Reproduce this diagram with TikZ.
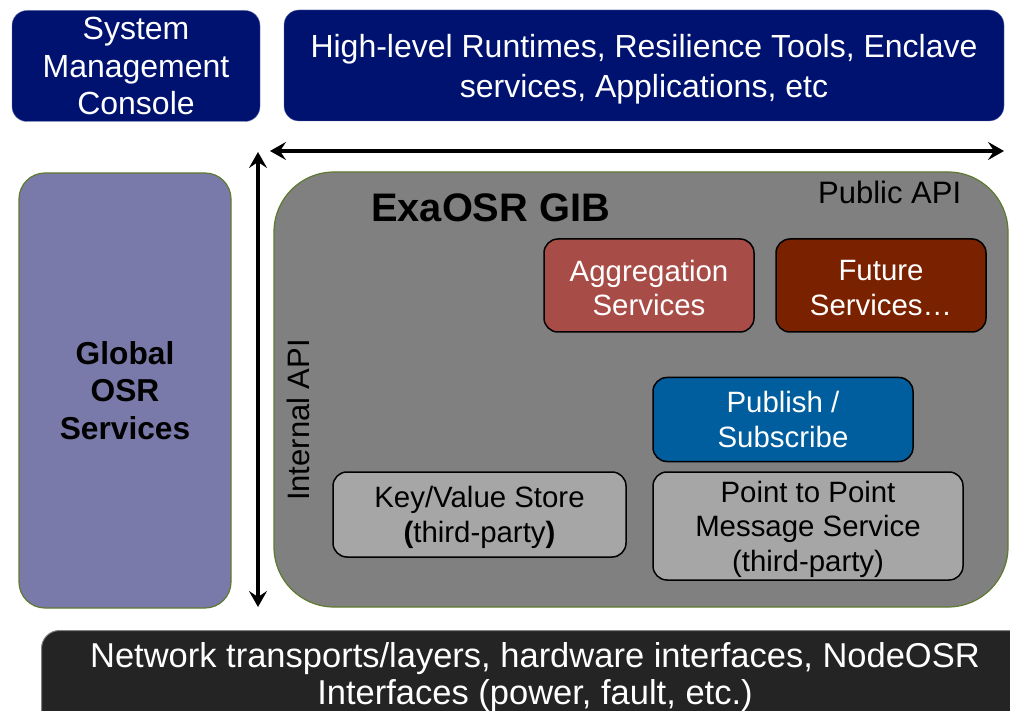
\documentclass[tikz,border=0pt]{standalone}
\usepackage{fontspec}
\setmainfont{Liberation Sans}
\usetikzlibrary{arrows.meta}
\definecolor{navy}{RGB}{0,18,112}
\definecolor{lav}{RGB}{122,122,170}
\definecolor{olive}{RGB}{95,122,48}
\definecolor{gibgray}{RGB}{128,128,128}
\definecolor{aggred}{RGB}{168,76,71}
\definecolor{futred}{RGB}{122,34,0}
\definecolor{pubblue}{RGB}{0,94,158}
\definecolor{lgray}{RGB}{166,166,166}
\definecolor{dark}{RGB}{36,36,36}
\tikzset{
  topbox/.style={fill=navy, draw=navy!60, rounded corners=15pt, text=white, align=center,
    font=\fontsize{32}{37.5}\selectfont, inner sep=0pt},
  svcbox/.style={draw=black, line width=1.5pt, rounded corners=14pt, text=white, align=center,
    font=\fontsize{29.4}{34.5}\selectfont, inner sep=0pt},
  graybox/.style={svcbox, fill=lgray, text=black},
  bigarrow/.style={line width=4pt, {Stealth[length=16pt,width=18pt,inset=6pt]}-{Stealth[length=16pt,width=18pt,inset=6pt]}},
}
\begin{document}
\begin{tikzpicture}[x=1pt,y=-1pt]
\useasboundingbox (0,0) rectangle (1010,711);
\clip (0,0) rectangle (1010,711);
% top boxes
\node[topbox, minimum width=248pt, minimum height=111pt] (smc) at (136,66) {System\\Management\\Console};
\node[topbox, minimum width=720pt, minimum height=111pt, font=\fontsize{32}{40}\selectfont] (hlr) at (644,65.5) {};
\node[text=white, align=center, font=\fontsize{32}{40}\selectfont, inner sep=0pt] (hlrt) at (644,69.5) {High-level Runtimes, Resilience Tools, Enclave\\services, Applications, etc};
% global OSR
\node[fill=lav, draw=olive, line width=1.2pt, rounded corners=26pt, minimum width=212pt, minimum height=435pt,
  align=center, font=\fontsize{31.7}{37.5}\selectfont\bfseries, inner sep=0pt] (gos) at (125,390.5) {Global\\OSR\\Services};
% GIB
\node[fill=gibgray, draw=olive, line width=1.2pt, rounded corners=60pt, minimum width=734pt, minimum height=435pt, inner sep=0pt] (gib) at (641,389.5) {};
\node[font=\fontsize{39.8}{40}\selectfont\bfseries, anchor=base west, inner sep=0pt] (gibt) at (371,222) {ExaOSR GIB};
\node[font=\fontsize{31}{34}\selectfont, anchor=base west, inner sep=0pt] (papi) at (818,204) {Public API};
\node[font=\fontsize{31}{34}\selectfont, rotate=90, inner sep=0pt] (iapi) at (298,420) {Internal API};
% arrows
\coordinate (hl) at (270,151);
\coordinate (hr) at (1004,151);
\coordinate (vt) at (258,152);
\coordinate (vb) at (258,607);
\draw[bigarrow] (hl) -- (hr);
\draw[bigarrow] (vt) -- (vb);
% services
\node[svcbox, fill=aggred, minimum width=210pt, minimum height=93pt] (agg) at (649,285.5) {};
\node[text=white, align=center, font=\fontsize{29.4}{34.5}\selectfont, inner sep=0pt] (aggt) at (649,288) {Aggregation\\Services};
\node[svcbox, fill=futred, minimum width=210pt, minimum height=93pt] (fut) at (881,285.5) {};
\node[text=white, align=center, font=\fontsize{29.4}{34.5}\selectfont, inner sep=0pt] (futt) at (881,288) {Future\\Services…};
\node[svcbox, fill=pubblue, minimum width=260pt, minimum height=84pt] (pub) at (783,419.5) {Publish /\\Subscribe};
\node[graybox, minimum width=293pt, minimum height=85pt] (kv) at (479.5,514.5) {};
\node[align=center, font=\fontsize{29.4}{34.5}\selectfont, inner sep=0pt] (kvt) at (479.5,517.5) {Key/Value Store\\\textbf{(}third-party\textbf{)}};
\node[graybox, minimum width=310pt, minimum height=108pt] (p2p) at (808,526) {};
\node[align=center, font=\fontsize{29.4}{34.5}\selectfont, inner sep=0pt] (p2pt) at (808,529) {Point to Point\\Message Service\\(third-party)};
% bottom
\node[fill=dark, draw=gray, line width=1pt, rounded corners=18pt, minimum width=990pt, minimum height=110pt,
  inner sep=0pt, anchor=north west] (net) at (41,630) {};
\node[text=white, align=center, font=\fontsize{34.5}{37}\selectfont, inner sep=0pt] (nett) at (535,677.5) {Network transports/layers, hardware interfaces, NodeOSR\\Interfaces (power, fault, etc.)};
\end{tikzpicture}
\end{document}
